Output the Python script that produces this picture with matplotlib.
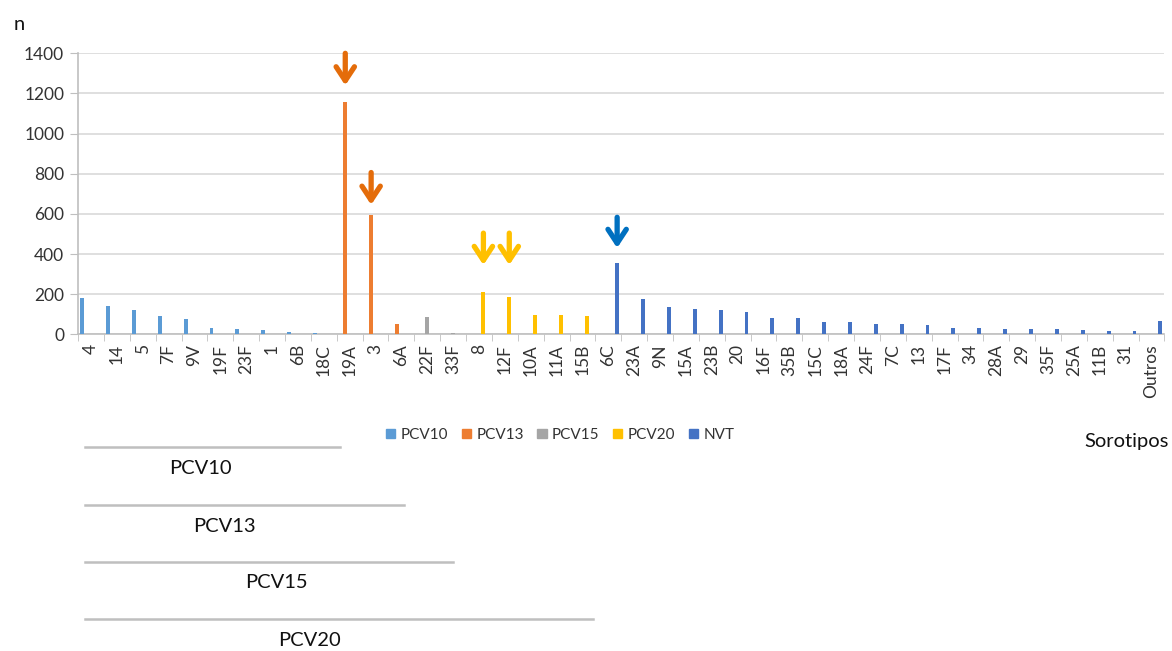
import numpy as np
import matplotlib
matplotlib.use("Agg")
import matplotlib.pyplot as plt
from matplotlib.patches import Patch
from matplotlib.lines import Line2D

plt.rcParams['font.family'] = ['Lato', 'DejaVu Sans']

#%% data
sorotipos = ["4", "14", "5", "7F", "9V", "19F", "23F", "1", "6B", "18C",
             "19A", "3", "6A",
             "22F", "33F",
             "8", "12F", "10A", "11A", "15B",
             "6C", "23A", "9N", "15A", "23B", "20", "16F", "35B", "15C",
             "18A", "24F", "7C", "13", "17F", "34", "28A", "29", "35F",
             "25A", "11B", "31", "Outros"]
n_casos = [182, 141, 121, 93, 76, 33, 28, 23, 10, 5,
           1157, 594, 50,
           88, 8,
           212, 187, 96, 96, 93,
           354, 174, 136, 126, 121, 111, 83, 83, 60,
           60, 50, 50, 45, 33, 33, 28, 28, 28,
           23, 15, 15, 68]
grupo = (["PCV10"] * 10 + ["PCV13"] * 3 + ["PCV15"] * 2 + ["PCV20"] * 5
         + ["NVT"] * 22)

series = ["PCV10", "PCV13", "PCV15", "PCV20", "NVT"]
cores = {"PCV10": "#5B9BD5", "PCV13": "#ED7D31", "PCV15": "#A5A5A5",
         "PCV20": "#FFC000", "NVT": "#4472C4"}

# highlighted serotypes: (serotype, arrow tail y, arrow tip y, colour)
setas = [("19A", 1400, 1240, "#E46C0A"),
         ("3", 806, 645, "#E46C0A"),
         ("8", 504, 345, "#FFC000"),
         ("12F", 504, 345, "#FFC000"),
         ("6C", 583, 430, "#0070C0")]

# vaccine coverage brackets below the axis
vacinas = ["PCV10", "PCV13", "PCV15", "PCV20"]

#%% plot
fig = plt.figure(figsize=(11.72, 6.51), dpi=100)
ax = fig.add_axes([0.0666, 0.4865, 0.927, 0.4316])

x = np.arange(len(sorotipos))
larg = 0.15
desloc = {s: (i - 2) * 0.17 for i, s in enumerate(series)}

for s in series:
    idx = [i for i, g in enumerate(grupo) if g == s]
    ax.bar(x[idx] + desloc[s], [n_casos[i] for i in idx], width=larg,
           color=cores[s], zorder=3)

for nome, y0, y1, c in setas:
    i = sorotipos.index(nome)
    xi = x[i] + desloc[grupo[i]]
    ax.annotate("", xy=(xi, y1), xytext=(xi, y0),
                arrowprops=dict(arrowstyle="->, head_length=0.5, head_width=0.33",
                                lw=3.8, color=c, mutation_scale=20,
                                shrinkA=0, shrinkB=0),
                annotation_clip=False, zorder=4)

ax.set_xlim(-0.5, len(sorotipos) - 0.5)
ax.set_ylim(0, 1400)
ax.set_yticks(np.arange(0, 1401, 200))
ax.yaxis.grid(True, color="#D9D9D9", lw=1.2, zorder=0)
ax.set_xticks(x)
ax.set_xticklabels(sorotipos, rotation=90, fontsize=12.5, color="#333333")
ax.set_xticks(np.arange(-0.5, len(sorotipos)), minor=True)
ax.tick_params(axis="x", which="major", length=0, pad=7)
ax.tick_params(axis="x", which="minor", length=5, color="#BFBFBF")
ax.tick_params(axis="y", length=6, color="#BFBFBF", labelsize=12.5,
               labelcolor="#333333", pad=4)
for lado in ["top", "right"]:
    ax.spines[lado].set_visible(False)
for lado in ["left", "bottom"]:
    ax.spines[lado].set_color("#BFBFBF")
    ax.spines[lado].set_linewidth(1.2)

fig.text(0.012, 0.963, "n", fontsize=14.5, color="#111111", va="center")
fig.text(0.997, 0.322, "Sorotipos", fontsize=14.5, color="#111111",
         ha="right", va="center")

handles = [Patch(color=cores[s], label=s) for s in series]
fig.legend(handles=handles, loc="center", bbox_to_anchor=(0.478, 0.332),
           ncol=5, frameon=False, fontsize=11, labelcolor="#333333",
           handlelength=0.6, handleheight=0.6, handletextpad=0.35,
           columnspacing=0.9)

# coverage brackets (figure pixels -> fraction)
W, H = 1172, 651
linhas_y = [447, 505, 562, 619]
linhas_x1 = [340, 404, 453, 593]
textos_xy = [(200, 469), (224, 526), (276, 583), (309, 641)]
for v, ly, lx, (tx, ty) in zip(vacinas, linhas_y, linhas_x1, textos_xy):
    fig.add_artist(Line2D([85 / W, lx / W], [1 - ly / H, 1 - ly / H],
                          transform=fig.transFigure, color="#BFBFBF", lw=1.8))
    fig.text(tx / W, 1 - ty / H, v, fontsize=14.5, color="#111111",
             ha="center", va="center")

fig.savefig("out.png", dpi=100)
